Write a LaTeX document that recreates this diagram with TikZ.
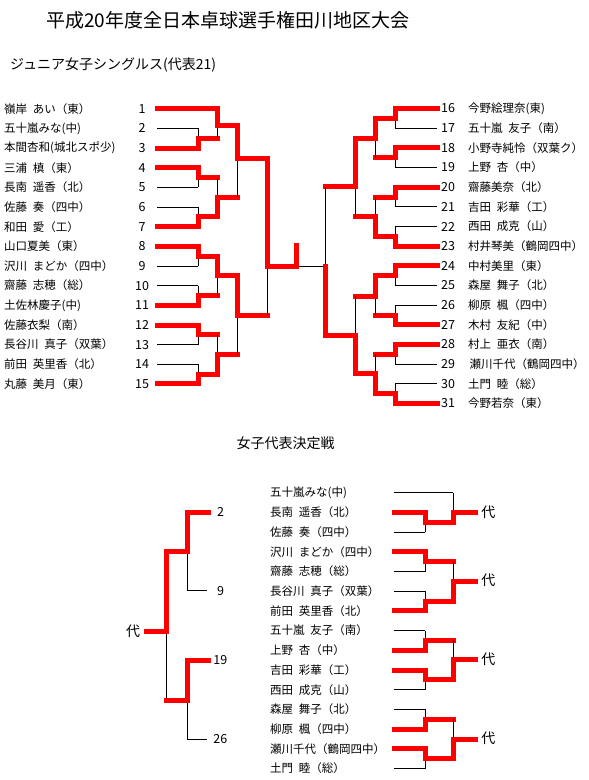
\documentclass[tikz,border=0pt]{standalone}
\usepackage{fontspec}
\setmainfont{Noto Sans CJK JP}
\newcommand\bkt[6]{% x, ytop, ybot, yjoin, winner t/b, xout
  \draw[lose] (#1,#2) -- (#1,#3);
  \if t#5\relax
    \draw[win] (#1,#2) -- (#1,#4) -- (#6,#4);
  \else
    \draw[win] (#1,#3) -- (#1,#4) -- (#6,#4);
  \fi}
\newcommand\rw[4]{\draw[#4] (#1,#3) -- (#2,#3);}
\begin{document}
\begin{tikzpicture}[x=1pt,y=-1pt,
  win/.style={draw=red,line width=5pt,line cap=rect,line join=miter},
  lose/.style={draw=black,line width=1pt},
  nm/.style={anchor=west,inner sep=0pt,font=\fontsize{11.5}{14}\selectfont},
  num/.style={anchor=center,inner sep=0pt,font=\fontsize{12.5}{14}\selectfont},
  hd/.style={anchor=west,inner sep=0pt,font=\fontsize{14}{16}\selectfont},
  dai/.style={anchor=center,inner sep=0pt,font=\fontsize{14}{16}\selectfont}]
\useasboundingbox (0,0) rectangle (589,780);
\fill[white] (0,0) rectangle (589,780);

% titles
\node[anchor=west,inner sep=0pt,font=\fontsize{19}{21}\selectfont] (title) at (46,20) {平成20年度全日本卓球選手権田川地区大会};
\node[hd] (sub) at (10,65) {ジュニア女子シングルス(代表21)};
\node[hd] (sub2) at (236.5,443) {女子代表決定戦};

% ---------------- left half (1-15)
\rw{157}{217}{108.7}{win}
\rw{157}{198}{128.4}{lose}
\rw{157}{198}{148.0}{win}
\rw{157}{198}{167.7}{win}
\rw{157}{198}{187.3}{lose}
\rw{157}{198}{207.0}{lose}
\rw{157}{198}{226.7}{win}
\rw{157}{198}{246.3}{win}
\rw{157}{198}{266.0}{lose}
\rw{157}{198}{285.6}{lose}
\rw{157}{198}{305.3}{win}
\rw{157}{198}{325.0}{win}
\rw{157}{198}{344.6}{lose}
\rw{157}{198}{364.3}{lose}
\rw{157}{198}{383.9}{win}
\bkt{198}{128.4}{148.0}{138.2}{b}{217}
\bkt{198}{167.7}{187.3}{177.5}{t}{217}
\bkt{198}{207.0}{226.7}{216.8}{b}{217}
\bkt{198}{246.3}{266.0}{256.1}{t}{217}
\bkt{198}{285.6}{305.3}{295.5}{b}{217}
\bkt{198}{325.0}{344.6}{334.8}{t}{217}
\bkt{198}{364.3}{383.9}{374.1}{b}{217}
\bkt{217}{108.7}{138.2}{125}{t}{237}
\bkt{217}{177.5}{216.8}{197.2}{b}{237}
\bkt{217}{256.1}{295.5}{275.8}{t}{237}
\bkt{217}{334.8}{374.1}{354.5}{b}{237}
\bkt{237}{125}{197.2}{158.5}{t}{267}
\bkt{237}{275.8}{354.5}{315}{t}{267}
\bkt{267}{158.5}{315}{266}{t}{296}
\draw[lose] (296,266) -- (325,266);
\draw[win] (296,266) -- (296,245);

% ---------------- right half (16-31)
\rw{395}{437}{108.5}{win}
\rw{395}{437}{128.2}{lose}
\rw{395}{437}{147.8}{win}
\rw{395}{437}{167.5}{lose}
\rw{395}{437}{187.1}{win}
\rw{395}{437}{206.8}{lose}
\rw{395}{437}{226.5}{lose}
\rw{395}{437}{246.1}{win}
\rw{395}{437}{265.8}{win}
\rw{395}{437}{285.4}{lose}
\rw{395}{437}{305.1}{lose}
\rw{395}{437}{324.8}{win}
\rw{395}{437}{344.4}{win}
\rw{395}{437}{364.1}{lose}
\rw{395}{437}{383.7}{lose}
\rw{395}{437}{403.4}{win}
\bkt{395}{108.5}{128.2}{118.3}{t}{375.7}
\bkt{395}{147.8}{167.5}{157.7}{t}{375.7}
\bkt{395}{187.1}{206.8}{197}{t}{375.7}
\bkt{395}{226.5}{246.1}{236.3}{b}{375.7}
\bkt{395}{265.8}{285.4}{275.6}{t}{375.7}
\bkt{395}{305.1}{324.8}{315}{b}{375.7}
\bkt{395}{344.4}{364.1}{354.3}{t}{375.7}
\bkt{395}{383.7}{403.4}{393.5}{b}{375.7}
\bkt{375.7}{118.3}{157.7}{138}{t}{355}
\bkt{375.7}{197}{236.3}{216.7}{b}{355}
\bkt{375.7}{275.6}{315}{296}{t}{355}
\bkt{375.7}{354.3}{393.5}{373.5}{b}{355}
\bkt{355}{138}{216.7}{186.7}{t}{325}
\bkt{355}{296}{373.5}{335}{b}{325}
\draw[lose] (325,186.7) -- (325,335);
\draw[win] (325,335) -- (325,266);

% left numbers and names
\foreach \n/\y/\t in {
 1/108.7/嶺岸\enspace あい（東）,
 2/128.4/五十嵐みな(中),
 3/148.0/本間杏和(城北スポ少),
 4/167.7/三浦\enspace 槙（東）,
 5/187.3/長南\enspace 遥香（北）,
 6/207.0/佐藤\enspace 奏（四中）,
 7/226.7/和田\enspace 愛（工）,
 8/246.3/山口夏美（東）,
 9/266.0/沢川\enspace まどか（四中）,
 10/285.6/齋藤\enspace 志穂（総）,
 11/305.3/土佐林慶子(中),
 12/325.0/佐藤衣梨（南）,
 13/344.6/長谷川\enspace 真子（双葉）,
 14/364.3/前田\enspace 英里香（北）,
 15/383.9/丸藤\enspace 美月（東）}{
  \node[nm] (ln\n) at (4,\y) {\t};
  \node[num] (lk\n) at (142,\y) {\n};
}
% right numbers and names
\foreach \n/\y/\t in {
 16/108.5/今野絵理奈(東),
 17/128.2/五十嵐\enspace 友子（南）,
 18/147.8/小野寺純怜（双葉ク）,
 19/167.5/上野\enspace 杏（中）,
 20/187.1/齋藤美奈（北）,
 21/206.8/吉田\enspace 彩華（工）,
 22/226.5/西田\enspace 成克（山）,
 23/246.1/村井琴美（鶴岡四中）,
 24/265.8/中村美里（東）,
 25/285.4/森屋\enspace 舞子（北）,
 26/305.1/柳原\enspace 楓（四中）,
 27/324.8/木村\enspace 友紀（中）,
 28/344.4/村上\enspace 亜衣（南）,
 29/364.1/\hspace{1.5pt}瀬川千代（鶴岡四中）,
 30/383.7/土門\enspace 睦（総）,
 31/403.4/今野若奈（東）}{
  \node[nm] (rn\n) at (468,\y) {\t};
  \node[num] (rk\n) at (448,\y) {\n};
}

% ---------------- representative decision (bottom left)
\draw[lose] (166.7,551.7) -- (166.7,700);
\draw[win] (146.7,631) -- (166.7,631) -- (166.7,551.7) -- (187.3,551.7);
\draw[lose] (187.3,512.3) -- (187.3,590.7) -- (206.7,590.7);
\draw[win] (208.3,512.3) -- (187.3,512.3) -- (187.3,551.7);
\draw[win] (166.7,700) -- (187.3,700);
\draw[lose] (187.3,660) -- (187.3,739) -- (206.7,739);
\draw[win] (208.3,660) -- (187.3,660) -- (187.3,700);
\node[dai] (d0) at (133,631) {代};
\node[num] (b2) at (220.7,512.3) {2};
\node[num] (b9) at (220.7,590.7) {9};
\node[num] (b19) at (220.3,660) {19};
\node[num] (b26) at (220.3,739) {26};

% ---------------- bottom right groups
\foreach \k/\t in {
 0/五十嵐みな(中),
 1/長南\enspace 遥香（北）,
 2/佐藤\enspace 奏（四中）,
 3/沢川\enspace まどか（四中）,
 4/齋藤\enspace 志穂（総）,
 5/長谷川\enspace 真子（双葉）,
 6/前田\enspace 英里香（北）,
 7/五十嵐\enspace 友子（南）,
 8/上野\enspace 杏（中）,
 9/吉田\enspace 彩華（工）,
 10/西田\enspace 成克（山）,
 11/森屋\enspace 舞子（北）,
 12/柳原\enspace 楓（四中）,
 13/瀬川千代（鶴岡四中）,
 14/土門\enspace 睦（総）}{
  \node[nm] (bn\k) at (270,{492.7+\k*19.7}) {\t};
}
% group 1
\rw{394}{453.3}{492.7}{lose}
\rw{394}{425}{512.4}{win}
\rw{394}{425}{532.1}{lose}
\bkt{425}{512.4}{532.1}{522.2}{t}{453.3}
\bkt{453.3}{492.7}{522.2}{512.4}{b}{475}
\node[dai] (d1) at (488.3,512.4) {代};
% group 2
\rw{394}{425}{551.8}{win}
\rw{394}{425}{571.5}{lose}
\rw{394}{425}{591.2}{lose}
\rw{394}{425}{610.9}{win}
\bkt{425}{551.8}{571.5}{561.6}{t}{453.3}
\bkt{425}{591.2}{610.9}{601}{b}{453.3}
\bkt{453.3}{561.6}{601}{581.3}{b}{475}
\node[dai] (d2) at (488.3,580.5) {代};
% group 3
\rw{394}{425}{630.6}{lose}
\rw{394}{425}{650.3}{win}
\rw{394}{425}{670.0}{win}
\rw{394}{425}{689.7}{lose}
\bkt{425}{630.6}{650.3}{640.4}{b}{453.3}
\bkt{425}{670.0}{689.7}{679.8}{t}{453.3}
\bkt{453.3}{640.4}{679.8}{659.3}{b}{475}
\node[dai] (d3) at (488.3,658.8) {代};
% group 4
\rw{394}{425}{709.4}{lose}
\rw{394}{425}{729.1}{win}
\rw{394}{425}{748.8}{win}
\rw{394}{425}{768.5}{lose}
\bkt{425}{709.4}{729.1}{719}{b}{453.3}
\bkt{425}{748.8}{768.5}{758.6}{t}{453.3}
\bkt{453.3}{719}{758.6}{739}{b}{475}
\node[dai] (d4) at (488.3,738.5) {代};
\end{tikzpicture}
\end{document}
